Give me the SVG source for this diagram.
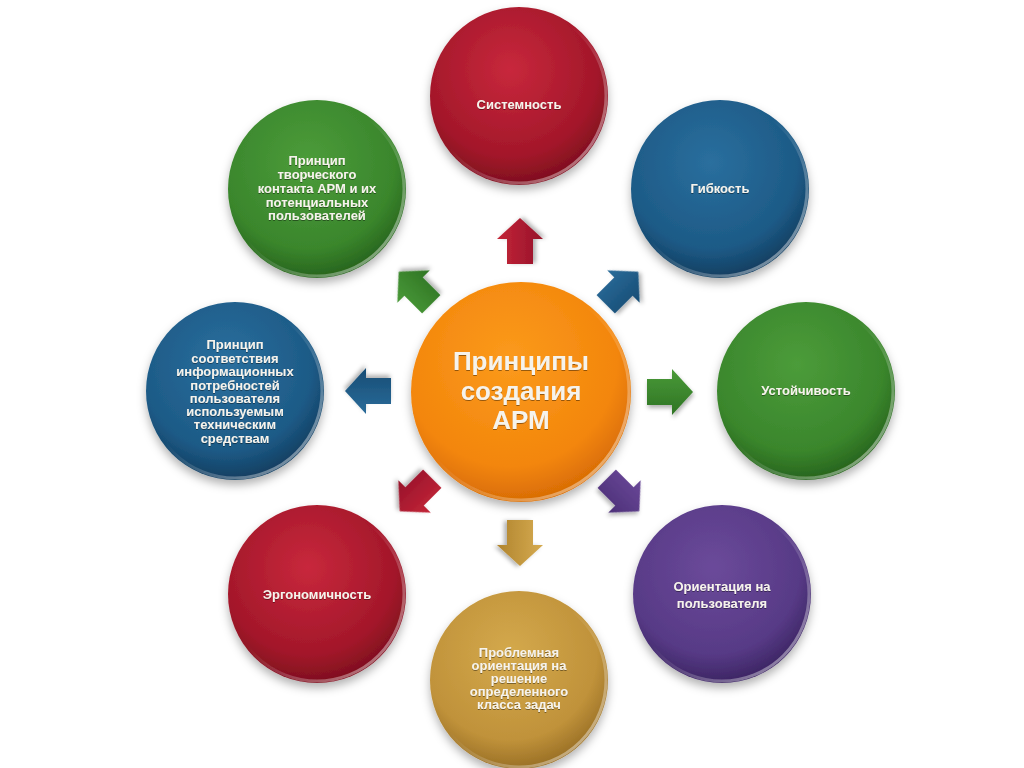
<svg xmlns="http://www.w3.org/2000/svg" width="1024" height="768" viewBox="0 0 1024 768">
<defs>
<filter id="sh" x="-20%" y="-20%" width="140%" height="150%"><feDropShadow dx="0" dy="5" stdDeviation="5" flood-color="#000" flood-opacity="0.3"/></filter>
<filter id="ash" x="-30%" y="-30%" width="160%" height="170%"><feDropShadow dx="1" dy="3" stdDeviation="2" flood-color="#000" flood-opacity="0.3"/></filter>
<filter id="tsh"><feDropShadow dx="0" dy="1" stdDeviation="0.6" flood-color="#000" flood-opacity="0.4"/></filter>
<radialGradient id="gRed" cx="45%" cy="35%" r="65%"><stop offset="0" stop-color="#c8283c"/><stop offset="0.75" stop-color="#a3172a"/><stop offset="1" stop-color="#7e0f1e"/></radialGradient>
<radialGradient id="gBlue" cx="45%" cy="35%" r="65%"><stop offset="0" stop-color="#2a6f9e"/><stop offset="0.75" stop-color="#1d5a86"/><stop offset="1" stop-color="#123e60"/></radialGradient>
<radialGradient id="gGreen" cx="45%" cy="35%" r="65%"><stop offset="0" stop-color="#4c9c3a"/><stop offset="0.75" stop-color="#3a862c"/><stop offset="1" stop-color="#27641d"/></radialGradient>
<radialGradient id="gPurple" cx="45%" cy="35%" r="65%"><stop offset="0" stop-color="#6b4a9a"/><stop offset="0.75" stop-color="#573a86"/><stop offset="1" stop-color="#3c2563"/></radialGradient>
<radialGradient id="gGold" cx="45%" cy="35%" r="65%"><stop offset="0" stop-color="#d4a94c"/><stop offset="0.75" stop-color="#c0923a"/><stop offset="1" stop-color="#9a7026"/></radialGradient>
<radialGradient id="gOrange" cx="45%" cy="35%" r="65%"><stop offset="0" stop-color="#fb9a1c"/><stop offset="0.75" stop-color="#f3860c"/><stop offset="1" stop-color="#d86c05"/></radialGradient>
<linearGradient id="rim" x1="0" y1="0" x2="1" y2="1"><stop offset="0.45" stop-color="#fff" stop-opacity="0"/><stop offset="1" stop-color="#fff" stop-opacity="0.55"/></linearGradient>
<linearGradient id="aRed" x1="0" y1="0" x2="0" y2="1"><stop offset="0" stop-color="#c42638"/><stop offset="1" stop-color="#96122a"/></linearGradient>
<linearGradient id="aBlue" x1="0" y1="0" x2="0" y2="1"><stop offset="0" stop-color="#2a6c9a"/><stop offset="1" stop-color="#174c74"/></linearGradient>
<linearGradient id="aGreen" x1="0" y1="0" x2="0" y2="1"><stop offset="0" stop-color="#4a9a38"/><stop offset="1" stop-color="#2f7424"/></linearGradient>
<linearGradient id="aPurple" x1="0" y1="0" x2="0" y2="1"><stop offset="0" stop-color="#6a4898"/><stop offset="1" stop-color="#4c3078"/></linearGradient>
<linearGradient id="aGold" x1="0" y1="0" x2="0" y2="1"><stop offset="0" stop-color="#d6ab50"/><stop offset="1" stop-color="#b0842e"/></linearGradient>
<path id="arr" d="M-23,-13 L2,-13 L2,-23 L23,0 L2,23 L2,13 L-23,13 Z"/>
</defs>
<style>
.node circle.body{filter:url(#sh)}
.rim{fill:none;stroke:url(#rim);stroke-width:3}
.t{font-family:"Liberation Sans",Arial,sans-serif;font-weight:bold;fill:#f6f3ec;text-anchor:middle;filter:url(#tsh)}
.s{font-size:13px}
.c{font-size:26px}
.conn use{filter:url(#ash)}
</style>
<rect width="1024" height="768" fill="#fff"/>

<g id="connectors" class="conn">
<use href="#arr" fill="url(#aRed)" transform="translate(520,241) rotate(-90)"/>
<use href="#arr" fill="url(#aBlue)" transform="translate(622,288) rotate(-45)"/>
<use href="#arr" fill="url(#aGreen)" transform="translate(670,392)"/>
<use href="#arr" fill="url(#aPurple)" transform="translate(623,495) rotate(45)"/>
<use href="#arr" fill="url(#aGold)" transform="translate(520,543) rotate(90)"/>
<use href="#arr" fill="url(#aRed)" transform="translate(416,495) rotate(135)"/>
<use href="#arr" fill="url(#aBlue)" transform="translate(368,391) rotate(180)"/>
<use href="#arr" fill="url(#aGreen)" transform="translate(415,288) rotate(-135)"/>
</g>

<g id="center" class="node">
<circle class="body" cx="521" cy="392" r="110" fill="url(#gOrange)"/>
<circle class="rim" cx="521" cy="392" r="108"/>
<text class="t c" x="521" y="370">Принципы</text>
<text class="t c" x="521" y="400">создания</text>
<text class="t c" x="521" y="429">АРМ</text>
</g>

<g id="n-sistemnost" class="node">
<circle class="body" cx="519" cy="96" r="89" fill="url(#gRed)"/>
<circle class="rim" cx="519" cy="96" r="87"/>
<text class="t s" x="519" y="109">Системность</text>
</g>

<g id="n-gibkost" class="node">
<circle class="body" cx="720" cy="189" r="89" fill="url(#gBlue)"/>
<circle class="rim" cx="720" cy="189" r="87"/>
<text class="t s" x="720" y="193">Гибкость</text>
</g>

<g id="n-ustoychivost" class="node">
<circle class="body" cx="806" cy="391" r="89" fill="url(#gGreen)"/>
<circle class="rim" cx="806" cy="391" r="87"/>
<text class="t s" x="806" y="395">Устойчивость</text>
</g>

<g id="n-orientaciya" class="node">
<circle class="body" cx="722" cy="594" r="89" fill="url(#gPurple)"/>
<circle class="rim" cx="722" cy="594" r="87"/>
<text class="t s" x="722" y="591">Ориентация на</text>
<text class="t s" x="722" y="608">пользователя</text>
</g>

<g id="n-problemnaya" class="node">
<circle class="body" cx="519" cy="680" r="89" fill="url(#gGold)"/>
<circle class="rim" cx="519" cy="680" r="87"/>
<text class="t s" x="519" y="657">Проблемная</text>
<text class="t s" x="519" y="670">ориентация на</text>
<text class="t s" x="519" y="683">решение</text>
<text class="t s" x="519" y="696">определенного</text>
<text class="t s" x="519" y="709">класса задач</text>
</g>

<g id="n-ergonomichnost" class="node">
<circle class="body" cx="317" cy="594" r="89" fill="url(#gRed)"/>
<circle class="rim" cx="317" cy="594" r="87"/>
<text class="t s" x="317" y="599">Эргономичность</text>
</g>

<g id="n-sootvetstvie" class="node">
<circle class="body" cx="235" cy="391" r="89" fill="url(#gBlue)"/>
<circle class="rim" cx="235" cy="391" r="87"/>
<text class="t s" x="235" y="349">Принцип</text>
<text class="t s" x="235" y="363">соответствия</text>
<text class="t s" x="235" y="376">информационных</text>
<text class="t s" x="235" y="390">потребностей</text>
<text class="t s" x="235" y="403">пользователя</text>
<text class="t s" x="235" y="416">используемым</text>
<text class="t s" x="235" y="429">техническим</text>
<text class="t s" x="235" y="443">средствам</text>
</g>

<g id="n-tvorcheskiy" class="node">
<circle class="body" cx="317" cy="189" r="89" fill="url(#gGreen)"/>
<circle class="rim" cx="317" cy="189" r="87"/>
<text class="t s" x="317" y="165">Принцип</text>
<text class="t s" x="317" y="179">творческого</text>
<text class="t s" x="317" y="193">контакта АРМ и их</text>
<text class="t s" x="317" y="207">потенциальных</text>
<text class="t s" x="317" y="220">пользователей</text>
</g>
</svg>
